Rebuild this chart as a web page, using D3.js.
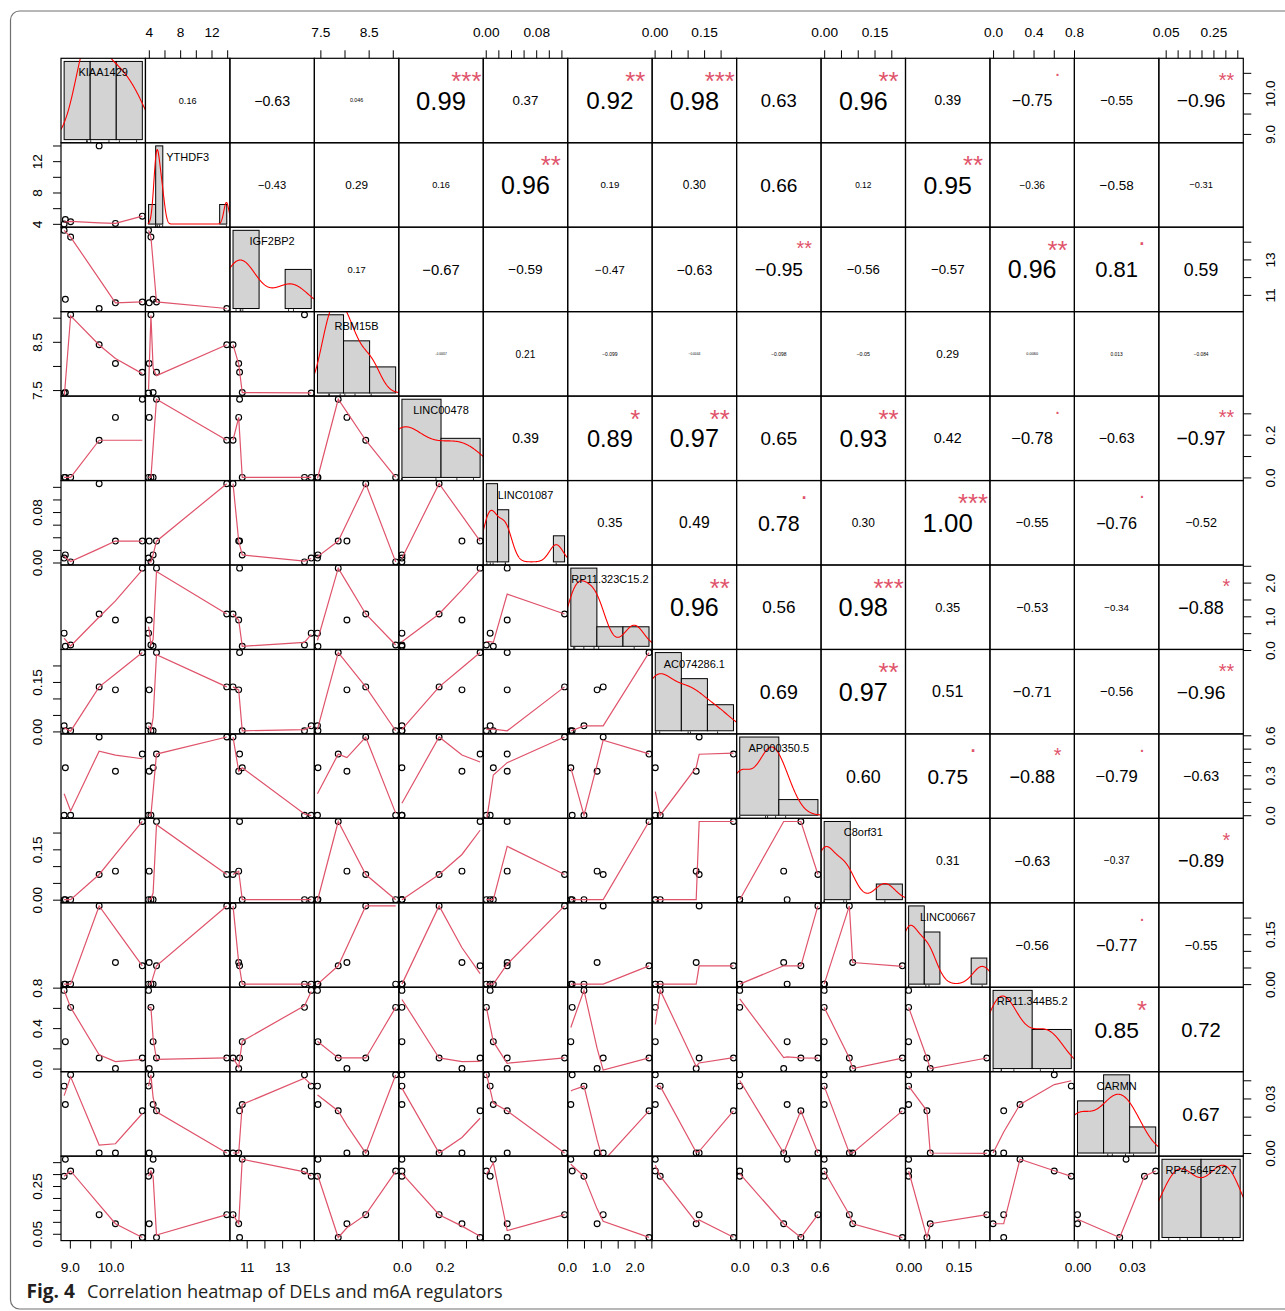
<!DOCTYPE html>
<meta charset="utf-8">
<style>
	body { margin: 0; background: #fff; }
	svg { display: block; }
</style>
<body>
<svg id="svg"></svg>
<script src="https://cdn.jsdelivr.net/npm/d3@7"></script>
<script>

// DATA: six samples for every gene
var names = [ 'KIAA1429', 'YTHDF3', 'IGF2BP2', 'RBM15B', 'LINC00478', 'LINC01087', 'RP11.323C15.2',
	'AC074286.1', 'AP000350.5', 'C8orf31', 'LINC00667', 'RP11.344B5.2', 'CARMN', 'RP4.564F22.7' ]

var kiaa1429     = [ 8.86, 8.89, 9.02, 9.72, 10.12, 10.78 ]
var ythdf3       = [ 3.97, 4.55, 4.27, 13.95, 4.05, 4.98 ]
var igf2bp2      = [ 14.64, 10.75, 14.26, 10.23, 10.55, 10.60 ]
var rbm15b       = [ 7.44, 7.45, 9.06, 8.44, 8.05, 7.87 ]
var linc00478    = [ 0, 0, 0, 0.174, 0.281, 0.366 ]
var linc01087    = [ 0.007, 0.012, 0.001, 0.125, 0.034, 0.034 ]
var rp11_323c152 = [ 0.50, 0.11, 0.15, 1.07, 0.89, 2.43 ]
var ac074286     = [ 0.017, 0.002, 0.002, 0.135, 0.126, 0.239 ]
var ap000350     = [ 0, 0.356, 0, 0.587, 0.33, 0.459 ]
var c8orf31      = [ 0, 0, 0, 0.075, 0.085, 0.233 ]
var linc00667    = [ 0, 0, 0, 0.235, 0.065, 0.055 ]
var rp11_344b52  = [ 0.773, 0.266, 0.605, 0.105, 0, 0.105 ]
var carmn        = [ 0.0368, 0.0267, 0.043, 0, 0, 0.0232 ]
var rp4_564f227  = [ 0.291, 0.362, 0.313, 0.13, 0.092, 0.0345 ]

var series = [ kiaa1429, ythdf3, igf2bp2, rbm15b, linc00478, linc01087, rp11_323c152,
	ac074286, ap000350, c8orf31, linc00667, rp11_344b52, carmn, rp4_564f227 ]

// histogram breaks (diagonal)
var breaks = [
	[ 8, 9, 10, 11 ],
	[ 3, 4, 5, 6, 7, 8, 9, 10, 11, 12, 13, 14 ],
	[ 10, 12, 14, 16 ],
	[ 7, 8, 9, 10 ],
	[ 0, 0.2, 0.4 ],
	[ 0, 0.02, 0.04, 0.06, 0.08, 0.10, 0.12, 0.14 ],
	[ 0, 1, 2, 3 ],
	[ 0, 0.1, 0.2, 0.3 ],
	[ 0, 0.5, 1.0 ],
	[ 0, 0.1, 0.2, 0.3 ],
	[ 0, 0.05, 0.10, 0.15, 0.20, 0.25 ],
	[ 0, 0.5, 1.0 ],
	[ 0, 0.02, 0.04, 0.06 ],
	[ 0, 0.2, 0.4 ]
]

// axis ticks and their labels ('' = tick without label)
var ticks = [
	[ 9.0, 9.5, 10.0, 10.5 ],
	[ 4, 6, 8, 10, 12, 14 ],
	[ 11, 12, 13, 14 ],
	[ 7.5, 8.0, 8.5, 9.0 ],
	[ 0, 0.1, 0.2, 0.3 ],
	[ 0, 0.02, 0.04, 0.06, 0.08, 0.10, 0.12 ],
	[ 0, 0.5, 1.0, 1.5, 2.0, 2.5 ],
	[ 0, 0.05, 0.10, 0.15, 0.20 ],
	[ 0, 0.1, 0.2, 0.3, 0.4, 0.5, 0.6 ],
	[ 0, 0.05, 0.10, 0.15, 0.20 ],
	[ 0, 0.05, 0.10, 0.15, 0.20 ],
	[ 0, 0.2, 0.4, 0.6, 0.8 ],
	[ 0, 0.01, 0.02, 0.03, 0.04 ],
	[ 0.05, 0.10, 0.15, 0.20, 0.25, 0.30, 0.35 ]
]
var tickLabels = [
	[ '9.0', '', '10.0', '' ],
	[ '4', '', '8', '', '12', '' ],
	[ '11', '', '13', '' ],
	[ '7.5', '', '8.5', '' ],
	[ '0.0', '', '0.2', '' ],
	[ '0.00', '', '', '', '0.08', '', '' ],
	[ '0.0', '', '1.0', '', '2.0', '' ],
	[ '0.00', '', '', '0.15', '' ],
	[ '0.0', '', '', '0.3', '', '', '0.6' ],
	[ '0.00', '', '', '0.15', '' ],
	[ '0.00', '', '', '0.15', '' ],
	[ '0.0', '', '0.4', '', '0.8' ],
	[ '0.00', '', '', '0.03', '' ],
	[ '0.05', '', '', '', '0.25', '', '' ]
]

// upper triangle: printed coefficients and significance marks, row by row
var corText = [
	[ '0.16', '−0.63', '0.046', '0.99', '0.37', '0.92', '0.98', '0.63', '0.96', '0.39', '−0.75', '−0.55', '−0.96' ],
	[ '−0.43', '0.29', '0.16', '0.96', '0.19', '0.30', '0.66', '0.12', '0.95', '−0.36', '−0.58', '−0.31' ],
	[ '0.17', '−0.67', '−0.59', '−0.47', '−0.63', '−0.95', '−0.56', '−0.57', '0.96', '0.81', '0.59' ],
	[ '−0.00057', '0.21', '−0.099', '−0.0044', '−0.098', '−0.05', '0.29', '0.0060', '0.013', '−0.084' ],
	[ '0.39', '0.89', '0.97', '0.65', '0.93', '0.42', '−0.78', '−0.63', '−0.97' ],
	[ '0.35', '0.49', '0.78', '0.30', '1.00', '−0.55', '−0.76', '−0.52' ],
	[ '0.96', '0.56', '0.98', '0.35', '−0.53', '−0.34', '−0.88' ],
	[ '0.69', '0.97', '0.51', '−0.71', '−0.56', '−0.96' ],
	[ '0.60', '0.75', '−0.88', '−0.79', '−0.63' ],
	[ '0.31', '−0.63', '−0.37', '−0.89' ],
	[ '−0.56', '−0.77', '−0.55' ],
	[ '0.85', '0.72' ],
	[ '0.67' ]
]
var corSig = [
	[ '', '', '', '***', '', '**', '***', '', '**', '', '.', '', '**' ],
	[ '', '', '', '**', '', '', '', '', '**', '', '', '' ],
	[ '', '', '', '', '', '**', '', '', '**', '.', '' ],
	[ '', '', '', '', '', '', '', '', '', '' ],
	[ '', '*', '**', '', '**', '', '.', '', '**' ],
	[ '', '', '.', '', '***', '', '.', '' ],
	[ '**', '', '***', '', '', '', '*' ],
	[ '', '**', '', '', '', '**' ],
	[ '', '.', '*', '.', '' ],
	[ '', '', '', '*' ],
	[ '', '.', '' ],
	[ '*', '' ],
	[ '' ]
]

// LAYOUT
var W = 1285, H = 1311
var gx = 61, gy = 58.3, cs = 84.45
var nv = names.length
var FONT = '"Liberation Sans", Arial, Helvetica, sans-serif'
var RED2 = '#DF536B'

var svg = d3.select( '#svg' ).attr( 'width', W ).attr( 'height', H )
var defs = svg.append( 'defs' )

svg.append( 'rect' ).attr( 'width', W ).attr( 'height', H ).attr( 'fill', '#fff' )
// figure frame
svg.append( 'rect' )
	.attr( 'x', 10.5 ).attr( 'y', 11 ).attr( 'width', 1310 ).attr( 'height', 1298 ).attr( 'rx', 9 )
	.attr( 'fill', 'none' ).attr( 'stroke', '#707070' ).attr( 'stroke-width', 1.2 )

// padded scales like R's xaxs = "r"
function padded( ext ){
	var d = ext[1] - ext[0]
	return [ ext[0] - 0.04 * d, ext[1] + 0.04 * d ]
}
var xs = series.map( ( s, k )=> d3.scaleLinear().domain( padded( d3.extent( s ))).range([ gx + k * cs, gx + ( k + 1 ) * cs ]))
var ys = series.map( ( s, k )=> d3.scaleLinear().domain( padded( d3.extent( s ))).range([ gy + ( k + 1 ) * cs, gy + k * cs ]))

// R's lowess (clowess port)
function lowess( xIn, yIn, f, nsteps ){
	f = f || 2 / 3
	nsteps = nsteps == null ? 3 : nsteps
	var o = d3.range( xIn.length ).sort( ( a, b )=> xIn[a] - xIn[b] )
	var x = o.map( k => xIn[k] ), y = o.map( k => yIn[k] )
	var n = x.length
	var delta = 0.01 * ( x[n - 1] - x[0] )
	var ysm = new Array( n ).fill( 0 ), rw = new Array( n ).fill( 1 ), res = new Array( n ).fill( 0 )
	var ns = Math.max( 2, Math.min( n, Math.floor( f * n + 1e-7 )))

	function lowest( xv, nleft, nright, userw ){
		var range = x[n - 1] - x[0]
		var h = Math.max( xv - x[nleft], x[nright] - xv )
		var h9 = 0.999 * h, h1 = 0.001 * h
		var w = res, a = 0, j = nleft
		while( j < n ){
			w[j] = 0
			var r = Math.abs( x[j] - xv )
			if( r <= h9 ){
				w[j] = r <= h1 ? 1 : Math.pow( 1 - Math.pow( r / h, 3 ), 3 )
				if( userw ) w[j] *= rw[j]
				a += w[j]
			} else if( x[j] > xv ) break
			j++
		}
		var nrt = j - 1
		if( a <= 0 ) return null
		for( j = nleft; j <= nrt; j++ ) w[j] /= a
		if( h > 0 ){
			a = 0
			for( j = nleft; j <= nrt; j++ ) a += w[j] * x[j]
			var b = xv - a, c = 0
			for( j = nleft; j <= nrt; j++ ) c += w[j] * ( x[j] - a ) * ( x[j] - a )
			if( Math.sqrt( c ) > 0.001 * range ){
				b /= c
				for( j = nleft; j <= nrt; j++ ) w[j] *= ( b * ( x[j] - a ) + 1 )
			}
		}
		var out = 0
		for( j = nleft; j <= nrt; j++ ) out += w[j] * y[j]
		return out
	}

	var iter = 1
	while( iter <= nsteps + 1 ){
		var nleft = 0, nright = ns - 1, last = -1, i = 0
		for( ;; ){
			if( nright < n - 1 ){
				var d1 = x[i] - x[nleft], d2 = x[nright + 1] - x[i]
				if( d1 > d2 ){ nleft++; nright++; continue }
			}
			var v = lowest( x[i], nleft, nright, iter > 1 )
			ysm[i] = v === null ? y[i] : v
			if( last < i - 1 ){
				var denom = x[i] - x[last]
				for( var j = last + 1; j < i; j++ ){
					var alpha = ( x[j] - x[last] ) / denom
					ysm[j] = alpha * ysm[i] + ( 1 - alpha ) * ysm[last]
				}
			}
			last = i
			var cut = x[last] + delta
			for( i = last + 1; i < n; i++ ){
				if( x[i] > cut ) break
				if( x[i] === x[last] ){ ysm[i] = ysm[last]; last = i }
			}
			i = Math.max( last + 1, i - 1 )
			if( last >= n - 1 ) break
		}
		for( var k = 0; k < n; k++ ) res[k] = y[k] - ysm[k]
		var sc = d3.sum( res, r => Math.abs( r )) / n
		if( iter > nsteps ) break
		var sorted = res.map( r => Math.abs( r )).sort( ( a, b )=> a - b )
		var m1 = Math.floor( n / 2 )
		var cmad = n % 2 === 0 ? 3 * ( sorted[m1] + sorted[n - m1 - 1] ) : 6 * sorted[m1]
		if( cmad < 1e-7 * sc ) break
		var c9 = 0.999 * cmad, c1 = 0.001 * cmad
		for( k = 0; k < n; k++ ){
			var r = Math.abs( res[k] )
			rw[k] = r <= c1 ? 1 : r <= c9 ? Math.pow( 1 - Math.pow( r / cmad, 2 ), 2 ) : 0
		}
		iter++
	}
	return x.map( ( xv, k )=> [ xv, ysm[k] ])
}

// R's default bandwidth and gaussian density
function bwNrd0( s ){
	var sorted = s.slice().sort( ( a, b )=> a - b )
	var hi = d3.deviation( s )
	var lo = Math.min( hi, ( d3.quantile( sorted, 0.75 ) - d3.quantile( sorted, 0.25 )) / 1.34 )
	if( !( lo > 0 )) lo = hi || Math.abs( s[0] ) || 1
	return 0.9 * lo * Math.pow( s.length, -0.2 )
}
function density( s ){
	var bw = bwNrd0( s )
	var lo = d3.min( s ) - 3 * bw, hi = d3.max( s ) + 3 * bw
	return d3.range( 512 ).map( k => {
		var x = lo + ( hi - lo ) * k / 511
		return [ x, d3.mean( s, v => Math.exp( -0.5 * Math.pow(( x - v ) / bw, 2 )) / Math.sqrt( 2 * Math.PI )) / bw ]
	})
}

// PANELS
var plot = svg.append( 'g' )

function panelSmooth( g, i, j ){
	var xv = series[j], yv = series[i], sx = xs[j], sy = ys[i]
	g.selectAll( 'circle' )
		.data( d3.zip( xv, yv ))
		.join( 'circle' )
			.attr( 'cx', d => sx( d[0] ))
			.attr( 'cy', d => sy( d[1] ))
			.attr( 'r', 2.9 )
			.attr( 'fill', 'none' )
			.attr( 'stroke', '#000' )
			.attr( 'stroke-width', 1.15 )
	g.append( 'path' )
		.attr( 'd', d3.line().x( d => sx( d[0] )).y( d => sy( d[1] ))( lowess( xv, yv )))
		.attr( 'fill', 'none' )
		.attr( 'stroke', RED2 )
		.attr( 'stroke-width', 1.2 )
}

function panelCor( g, i, j, x0, y0 ){
	var txt = corText[i][j - i - 1], sig = corSig[i][j - i - 1]
	var r = Math.abs( parseFloat( txt.replace( '−', '-' )))
	var t = g.append( 'text' )
		.text( txt )
		.attr( 'text-anchor', 'middle' )
		.style( 'font-family', FONT )
		.style( 'font-size', '10px' )
	// base size: text spans ~0.6 of the cell, then scaled by |r|
	var f0 = 10 * 50.3 / t.node().getComputedTextLength()
	var fs = f0 * ( r + 0.3 ) / 1.3
	t.style( 'font-size', fs + 'px' )
		.attr( 'x', x0 + cs / 2 )
		.attr( 'y', y0 + cs / 2 + 0.36 * fs )
	if( sig ){
		g.append( 'text' )
			.text( sig )
			.attr( 'text-anchor', 'middle' )
			.attr( 'x', x0 + 0.8 * cs )
			.attr( 'y', y0 + 0.2 * cs + ( sig == '.' ? 0.05 : 0.57 ) * f0 )
			.attr( 'fill', RED2 )
			.style( 'font-family', FONT )
			.style( 'font-size', f0 + 'px' )
	}
}

function panelHist( g, i, x0, y0, clip ){
	var s = series[i], br = breaks[i], n = s.length
	var D = br[br.length - 1] - br[0]
	var hx = d3.scaleLinear().domain([ br[0] - 0.04 * D, br[br.length - 1] + 0.04 * D ]).range([ x0, x0 + cs ])
	var counts = new Array( br.length - 1 ).fill( 0 )
	s.forEach( v => { counts[ Math.max( 0, d3.bisectLeft( br, v ) - 1 )]++ })
	var dens = counts.map( ( c, k )=> c / ( n * ( br[k + 1] - br[k] )))
	var ymax = d3.max( dens )
	var hy = d3.scaleLinear().domain([ -0.04 * ymax, 1.04 * ymax ]).range([ y0 + cs, y0 ])

	var inner = g.append( 'g' ).attr( 'clip-path', 'url(#' + clip + ')' )
	inner.selectAll( 'rect' )
		.data( dens )
		.join( 'rect' )
			.attr( 'x', ( d, k )=> hx( br[k] ))
			.attr( 'width', ( d, k )=> hx( br[k + 1] ) - hx( br[k] ))
			.attr( 'y', d => hy( d ))
			.attr( 'height', d => hy( 0 ) - hy( d ))
			.attr( 'fill', '#D3D3D3' )
			.attr( 'stroke', '#000' )
			.attr( 'stroke-width', 1 )
	inner.append( 'path' )
		.attr( 'd', d3.line().x( d => hx( d[0] )).y( d => hy( d[1] ))( density( s )))
		.attr( 'fill', 'none' )
		.attr( 'stroke', '#FF0000' )
		.attr( 'stroke-width', 1.1 )
	// rug
	inner.selectAll( 'line.rug' )
		.data( s )
		.join( 'line' )
			.attr( 'class', 'rug' )
			.attr( 'x1', d => hx( d )).attr( 'x2', d => hx( d ))
			.attr( 'y1', y0 + cs ).attr( 'y2', y0 + cs - 2.5 )
			.attr( 'stroke', '#000' ).attr( 'stroke-width', 0.8 )
	// variable name
	g.append( 'text' )
		.text( names[i] )
		.attr( 'x', x0 + cs / 2 )
		.attr( 'y', y0 + cs / 6 + 4 )
		.attr( 'text-anchor', 'middle' )
		.style( 'font-family', FONT )
		.style( 'font-size', '11px' )
}

for( var i = 0; i < nv; i++ ){
	for( var j = 0; j < nv; j++ ){
		var x0 = gx + j * cs, y0 = gy + i * cs
		var id = 'clip' + i + '_' + j
		defs.append( 'clipPath' ).attr( 'id', id )
			.append( 'rect' ).attr( 'x', x0 ).attr( 'y', y0 ).attr( 'width', cs ).attr( 'height', cs )
		var g = plot.append( 'g' )
		if( i > j ) panelSmooth( g.append( 'g' ).attr( 'clip-path', 'url(#' + id + ')' ), i, j )
		else if( i < j ) panelCor( g, i, j, x0, y0 )
		else panelHist( g, i, x0, y0, id )
		g.append( 'rect' )
			.attr( 'x', x0 ).attr( 'y', y0 ).attr( 'width', cs ).attr( 'height', cs )
			.attr( 'fill', 'none' ).attr( 'stroke', '#000' ).attr( 'stroke-width', 1.2 )
	}
}

// AXES: alternate sides like pairs()
function fmt( k ){ return d => tickLabels[k][ ticks[k].indexOf( d ) ] }
function styleAxis( a ){
	a.attr( 'font-family', FONT ).attr( 'font-size', 13.7 )
	a.select( '.domain' ).remove()
	a.selectAll( '.tick line' ).attr( 'stroke', '#000' )
	a.selectAll( '.tick text' ).attr( 'fill', '#000' )
	return a
}
for( var k = 0; k < nv; k++ ){
	var onTop = k % 2 == 1
	var ax = svg.append( 'g' )
		.attr( 'transform', 'translate(0,' + ( onTop ? gy : gy + nv * cs ) + ')' )
		.call(( onTop ? d3.axisTop( xs[k] ) : d3.axisBottom( xs[k] ))
			.tickValues( ticks[k] ).tickFormat( fmt( k )).tickSize( 8 ).tickSizeOuter( 0 ))
	styleAxis( ax ).selectAll( '.tick text' ).attr( 'dy', null ).attr( 'y', onTop ? -21 : 31.9 )

	var onLeft = k % 2 == 1
	var ay = svg.append( 'g' )
		.attr( 'transform', 'translate(' + ( onLeft ? gx : gx + nv * cs ) + ',0)' )
		.call(( onLeft ? d3.axisLeft( ys[k] ) : d3.axisRight( ys[k] ))
			.tickValues( ticks[k] ).tickFormat( fmt( k )).tickSize( 8 ).tickSizeOuter( 0 ))
	styleAxis( ay ).selectAll( '.tick text' )
		.attr( 'x', null ).attr( 'dy', null )
		.attr( 'text-anchor', 'middle' )
		.attr( 'transform', 'translate(' + ( onLeft ? -19.3 : 31.7 ) + ',0) rotate(-90)' )
}

// CAPTION
var capFont = '"Open Sans", "Noto Sans", sans-serif'
var figLab = svg.append( 'text' )
	.text( 'Fig. 4' )
	.attr( 'x', 26.5 ).attr( 'y', 1298.3 )
	.attr( 'fill', '#231f20' )
	.style( 'font-family', capFont ).style( 'font-weight', 'bold' ).style( 'font-size', '19px' )
figLab.style( 'font-size', ( 19 * 48.5 / figLab.node().getComputedTextLength()) + 'px' )
var capText = svg.append( 'text' )
	.text( 'Correlation heatmap of DELs and m6A regulators' )
	.attr( 'x', 87 ).attr( 'y', 1298.3 )
	.attr( 'fill', '#231f20' )
	.style( 'font-family', capFont ).style( 'font-size', '19px' )
capText.style( 'font-size', ( 19 * 416 / capText.node().getComputedTextLength()) + 'px' )

</script>
</body>
